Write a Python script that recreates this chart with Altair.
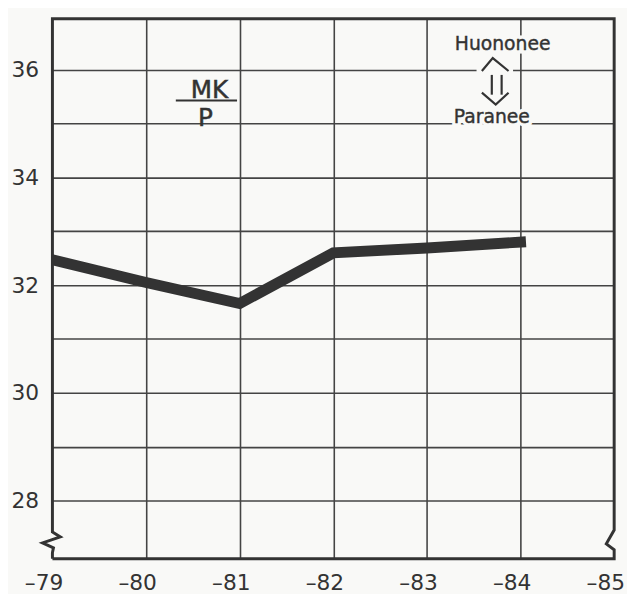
import altair as alt
import pandas as pd

# ---- data ----
years = [79, 80, 81, 82, 83, 84]
values = [32.47, 32.05, 31.66, 32.60, 32.69, 32.80]
x_ticks = [79, 80, 81, 82, 83, 84, 85]
x_tick_labels = ["–79", "–80", "–81", "–82", "–83", "–84", "–85"]
y_grid = [28, 29, 30, 31, 32, 33, 34, 35, 36]
y_tick_labels = ["28", "30", "32", "34", "36"]

BG = "#f9f9f7"
INK = "#333333"
FONT = "DejaVu Sans"

xs = alt.Scale(domain=[79, 85], nice=False, zero=False)
ys = alt.Scale(domain=[26.92, 36.95], nice=False, zero=False)

x_expr = "[" + ",".join(f"'{l}'" for l in x_tick_labels) + "][datum.value - 79]"
y_expr = "indexof([" + ",".join(y_tick_labels) + "], datum.value) >= 0 ? datum.label : ''"


def X(field="year", **kw):
    return alt.X(f"{field}:Q", scale=xs, title=None, **kw)


def Y(field="value", **kw):
    return alt.Y(f"{field}:Q", scale=ys, title=None, **kw)


df = pd.DataFrame({"year": years, "value": values})

main = alt.Chart(df).mark_line(
    color=INK, strokeWidth=11, strokeJoin="miter", strokeCap="square", clip=True
).encode(
    x=X(axis=alt.Axis(values=x_ticks, labelExpr=x_expr, grid=True, domain=False,
                      ticks=False, tickSize=0, labelPadding=14, labelFontSize=22,
                      labelFlush=False, labelOverlap=False, labelOffset=-9,
                      labelFont=FONT, labelColor=INK, gridColor="#444444",
                      gridWidth=1.6,
                      gridOpacity={"condition": {"test": "datum.value <= 79 || datum.value >= 85",
                                                 "value": 0}, "value": 1})),
    y=Y(axis=alt.Axis(values=y_grid, labelExpr=y_expr, grid=True, domain=False,
                      ticks=False, tickSize=0, labelPadding=14, labelFontSize=22,
                      labelFlush=False,
                      labelFont=FONT, labelColor=INK, gridColor="#444444",
                      gridWidth=1.6)),
)

# ---- frame with axis breaks (zigzags) ----
frame_x = [79, 79, 79.011, 78.895, 79.084, 79, 79, 85, 85, 84.916, 85, 85, 79]
frame_y = [26.92, 27.03, 27.122, 27.214, 27.324, 27.416, 36.95, 36.95, 27.452, 27.195, 27.085, 26.92, 26.92]
frame_df = pd.DataFrame({"year": frame_x, "value": frame_y, "o": list(range(len(frame_x)))})
frame = alt.Chart(frame_df).mark_line(color=INK, strokeWidth=3, strokeJoin="miter").encode(
    x=X(), y=Y(), order="o:Q"
)

# ---- mask gap in the 36 grid line behind the arrow ----
mask_df = pd.DataFrame({"year": [83.53], "year2": [83.92], "value": [35.95], "value2": [36.05]})
mask = alt.Chart(mask_df).mark_rect(color=BG).encode(
    x=X(), x2="year2:Q", y=Y(), y2="value2:Q"
)

# ---- double arrow ----
arrow_df = pd.DataFrame({
    "year": [83.587, 83.703, 83.872, 83.693, 83.693, 83.798, 83.798, 83.587, 83.735, 83.872],
    "value": [35.978, 36.217, 35.978, 35.905, 35.538, 35.905, 35.538, 35.575, 35.355, 35.575],
    "seg": ["a", "a", "a", "b", "b", "c", "c", "d", "d", "d"],
    "o": [0, 1, 2, 0, 1, 0, 1, 0, 1, 2],
})
arrow = alt.Chart(arrow_df).mark_line(color=INK, strokeWidth=2.2, strokeJoin="miter").encode(
    x=X(), y=Y(), detail="seg:N", order="o:Q"
)

# ---- texts ----
lbl_df = pd.DataFrame({"year": [83.809, 83.693], "value": [36.473, 35.117],
                       "t": ["Huononee", "Paranee"]})
lbl_halo = alt.Chart(lbl_df).mark_text(font=FONT, fontSize=19, color=BG, stroke=BG,
                                       strokeWidth=7).encode(x=X(), y=Y(), text="t:N")
lbl = alt.Chart(lbl_df).mark_text(font=FONT, fontSize=19, color=INK, stroke=INK,
                                  strokeWidth=0.4).encode(x=X(), y=Y(), text="t:N")

mk_df = pd.DataFrame({"year": [80.677], "value": [35.63], "t": ["MK"]})
mk = alt.Chart(mk_df).mark_text(font=FONT, fontSize=25, color=INK, stroke=INK,
                                strokeWidth=0.5).encode(x=X(), y=Y(), text="t:N")
p_df = pd.DataFrame({"year": [80.634], "value": [35.11], "t": ["P"]})
p = alt.Chart(p_df).mark_text(font=FONT, fontSize=25, color=INK, stroke=INK,
                              strokeWidth=0.5).encode(x=X(), y=Y(), text="t:N")
bar_df = pd.DataFrame({"year": [80.318], "year2": [80.972], "value": [35.428]})
bar = alt.Chart(bar_df).mark_rule(color=INK, strokeWidth=2).encode(
    x=X(), x2="year2:Q", y=Y())

chart = alt.layer(main, mask, frame, arrow, lbl_halo, lbl, mk, p, bar).properties(
    width=569, height=547,
    autosize=alt.AutoSizeParams(type="none"),
    padding={"left": 45, "top": 7, "right": 13, "bottom": 32},
    background=BG,
).configure_view(stroke=None)

chart.save("out.html", embed_options={"renderer": "svg", "actions": False})
